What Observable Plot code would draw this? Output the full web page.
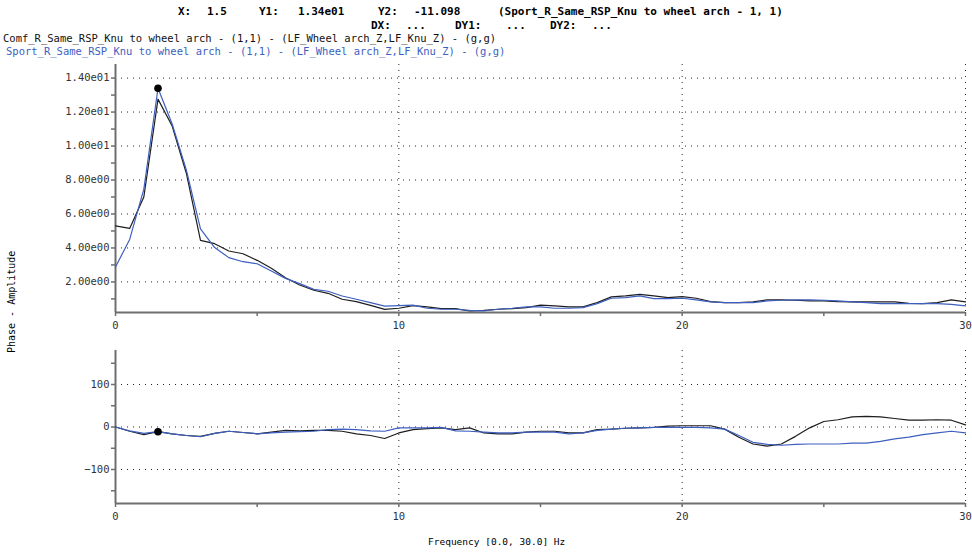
<!DOCTYPE html>
<html>
<head>
<meta charset="utf-8">
<script src="https://cdn.jsdelivr.net/npm/d3@7"></script>
<script src="https://cdn.jsdelivr.net/npm/@observablehq/plot@0.6"></script>
<style>
  body { margin: 0; background: #fff; }
  #wrap { position: relative; width: 972px; height: 553px; overflow: hidden; background: #fff; }
  .t { position: absolute; white-space: pre; font-family: "DejaVu Sans Mono", monospace; line-height: 1; }
  .svgbox { position: absolute; left: 0; }
</style>
</head>
<body>
<div id="wrap"></div>
<script>
// ---------- data ----------
const freq = [0,0.5,1,1.5,2,2.5,3,3.5,4,4.5,5,5.5,6,6.5,7,7.5,8,8.5,9,9.5,10,10.5,11,11.5,12,12.5,13,13.5,14,14.5,15,15.5,16,16.5,17,17.5,18,18.5,19,19.5,20,20.5,21,21.5,22,22.5,23,23.5,24,24.5,25,25.5,26,26.5,27,27.5,28,28.5,29,29.5,30];

const comfAmp = [5.30,5.15,7.0,12.76,11.18,8.4,4.45,4.25,3.82,3.66,3.27,2.80,2.25,1.82,1.51,1.33,0.98,0.84,0.62,0.38,0.45,0.60,0.53,0.43,0.43,0.29,0.33,0.39,0.43,0.49,0.63,0.59,0.53,0.53,0.78,1.12,1.18,1.27,1.18,1.08,1.14,1.04,0.84,0.78,0.78,0.82,0.94,0.94,0.92,0.88,0.88,0.84,0.82,0.82,0.82,0.82,0.74,0.72,0.78,0.94,0.82];
const sportAmp = [2.88,4.5,7.46,13.4,11.3,8.6,5.12,4.02,3.43,3.19,3.07,2.64,2.21,1.90,1.56,1.45,1.17,0.98,0.78,0.58,0.60,0.63,0.45,0.39,0.39,0.33,0.29,0.39,0.45,0.53,0.53,0.45,0.45,0.49,0.72,1.04,1.08,1.18,1.02,1.02,1.04,0.94,0.82,0.78,0.78,0.78,0.88,0.92,0.94,0.94,0.92,0.88,0.82,0.78,0.72,0.72,0.72,0.72,0.72,0.68,0.59];

const comfPhase = [0,-10,-18,-11,-16,-20,-22,-15,-10,-13,-16,-12,-8,-9,-8,-8,-10,-16,-20,-27,-14,-6,-4,-2,-6,-2,-14,-16,-16,-12,-10,-10,-14,-14,-6,-5,-3,-2,-1,2,3,3,3,-5,-24,-40,-45,-40,-22,-2,13,17,24,25,24,20,16,16,17,16,5];
const sportPhase = [0,-9,-15,-11.1,-16,-20,-23,-15,-10,-13,-16,-14,-12,-11,-10,-6,-5,-6,-9,-10,-2,-2,-2,-1,-9,-10,-12,-14,-14,-12,-12,-12,-16,-14,-8,-5,-3,-2,-1,-1,-1,-1,-2,-5,-20,-36,-41,-43,-41,-40,-40,-40,-38,-38,-34,-28,-24,-18,-14,-10,-14];

const cursorX = [1.5];
const cursorAmp = [13.4];
const cursorPhase = [-11.098];

const ampTicks = [2,4,6,8,10,12,14];
const ampTickLabels = ["2.00e00","4.00e00","6.00e00","8.00e00","1.00e01","1.20e01","1.40e01"];
const ampMinor = [1,3,5,7,9,11,13];
const phaseTicks = [-100,0,100];
const phaseTickLabels = ["\u2212100","0","100"];
const phaseMinor = [-150,-50,50,150];
const xTicks = [0,10,20,30];
const xTickLabels = ["0","10","20","30"];
const xMinor = [5,15,25];
const xGrid = [10,20,30];

const seriesNames = ["Comf_R_Same_RSP_Knu to wheel arch - (1,1) - (LF_Wheel arch_Z,LF_Knu_Z) - (g,g)",
                     "Sport_R_Same_RSP_Knu to wheel arch - (1,1) - (LF_Wheel arch_Z,LF_Knu_Z) - (g,g)"];
const seriesColors = ["#1e1e1e", "#3d5fc0"];

// ---------- build ----------
const wrap = document.getElementById("wrap");
function addText(txt, left, top, opts = {}) {
  const d = document.createElement("div");
  d.className = "t";
  d.textContent = txt;
  d.style.left = left + "px";
  d.style.top = top + "px";
  d.style.fontSize = (opts.size || 10) + "px";
  if (opts.bold) d.style.fontWeight = "bold";
  d.style.color = opts.color || "#000";
  if (opts.transform) { d.style.transform = opts.transform; d.style.transformOrigin = "0 0"; }
  wrap.appendChild(d);
  return d;
}

// header
addText("X:", 178, 6, {size: 11, bold: true});
addText("1.5", 207, 6, {size: 11, bold: true});
addText("Y1:", 259, 6, {size: 11, bold: true});
addText("1.34e01", 298, 6, {size: 11, bold: true});
addText("Y2:", 378, 6, {size: 11, bold: true});
addText("-11.098", 414, 6, {size: 11, bold: true});
addText("(Sport_R_Same_RSP_Knu to wheel arch - 1, 1)", 498, 6, {size: 11, bold: true});
addText("DX:", 371, 20, {size: 11, bold: true});
addText("...", 406, 20, {size: 11, bold: true});
addText("DY1:", 455, 20, {size: 11, bold: true});
addText("...", 506, 20, {size: 11, bold: true});
addText("DY2:", 550, 20, {size: 11, bold: true});
addText("...", 592, 20, {size: 11, bold: true});
addText(seriesNames[0], 3, 33, {size: 10.5, color: "#111"});
addText(seriesNames[1], 6, 46, {size: 10.5, color: seriesColors[1]});

// y label (rotated)
addText("Phase - Amplitude", 7, 353, {size: 10, transform: "rotate(-90deg)"});
// x label
addText("Frequency [0.0, 30.0] Hz", 428, 537, {size: 9.5});

const axisStyle = {fontFamily: "'DejaVu Sans Mono', monospace", fontSize: "10.5px", color: "#333", background: "transparent", overflow: "visible"};
const gridStyle = {stroke: "#000", strokeOpacity: 0.85, strokeDasharray: "1,5"};
const axisStroke = "#6e6e6e";

function panel(yDomain, yTicks, yLabels, yMinor, series, cursorY, top, height, mTop, mBottom) {
  const rows = series.map((vals, s) => freq.map((f, i) => ({f, v: vals[i], s})));
  const cur = cursorX.map((x, i) => ({x, y: cursorY[i]}));
  const p = Plot.plot({
    width: 972, height, marginLeft: 115, marginRight: 7, marginTop: mTop, marginBottom: mBottom,
    style: axisStyle,
    x: {domain: [0, 30]},
    y: {domain: yDomain},
    marks: [
      Plot.gridY(yTicks, gridStyle),
      Plot.gridX(xGrid, gridStyle),
      Plot.axisY(yTicks, {tickSize: 4, tickPadding: 2, stroke: axisStroke, strokeWidth: 1.5, tickFormat: (d, i) => yLabels[yTicks.indexOf(d)]}),
      Plot.axisY(yMinor, {tickSize: 4, stroke: axisStroke, strokeWidth: 1.5, tickFormat: () => ""}),
      Plot.axisX(xTicks, {tickSize: 4, tickPadding: 5, stroke: axisStroke, strokeWidth: 1.5, tickFormat: (d) => xTickLabels[xTicks.indexOf(d)]}),
      Plot.axisX(xMinor, {tickSize: 4, stroke: axisStroke, strokeWidth: 1.5, tickFormat: () => ""}),
      Plot.ruleX([0], {stroke: axisStroke, strokeWidth: 2}),
      Plot.ruleY([yDomain[0]], {stroke: axisStroke, strokeWidth: 2}),
      Plot.line(rows[0], {x: "f", y: "v", stroke: seriesColors[0], strokeWidth: 1.2}),
      Plot.line(rows[1], {x: "f", y: "v", stroke: seriesColors[1], strokeWidth: 1.2}),
      Plot.dot(cur, {x: "x", y: "y", r: 3.8, fill: "#000", stroke: "none"})
    ]
  });
  p.classList.add("svgbox");
  p.style.top = top + "px";
  p.style.position = "absolute";
  wrap.appendChild(p);
}

panel([0.2, 14.8], ampTicks, ampTickLabels, ampMinor, [comfAmp, sportAmp], cursorAmp, 60, 280, 4, 28);
panel([-180, 180], phaseTicks, phaseTickLabels, phaseMinor, [comfPhase, sportPhase], cursorPhase, 340, 213, 10, 50);
</script>
</body>
</html>
